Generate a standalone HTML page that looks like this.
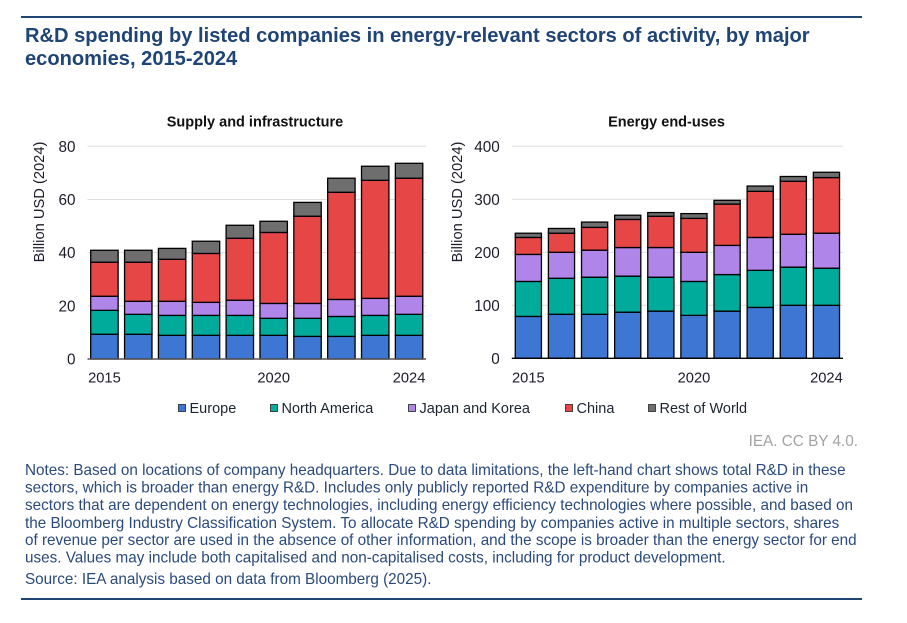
<!DOCTYPE html>
<html lang="en">
<head>
<meta charset="utf-8">
<title>R&amp;D spending by listed companies</title>
<style>
html,body{margin:0;padding:0;background:#fff;width:907px;height:623px;overflow:hidden}
svg{display:block;font-family:"Liberation Sans",Arial,sans-serif}
.title{font-size:20.1px;font-weight:bold;fill:#1f4476}
.note{font-size:15.27px;fill:#2a4a7c}
.tick{fill:#1c1c2a}
.sub{font-size:14.5px;font-weight:bold;fill:#111}
.legend{font-size:14.5px;fill:#1c2430}
</style>
</head>
<body>
<svg id="page" width="907" height="623" viewBox="0 0 907 623" xmlns="http://www.w3.org/2000/svg">
  <rect x="21" y="16" width="841" height="2" fill="#1f4476"/>
  <text class="title" x="25" y="42">R&amp;D spending by listed companies in energy-relevant sectors of activity, by major</text>
  <text class="title" x="25" y="65">economies, 2015-2024</text>

  <g id="left-chart"></g>
  <g id="right-chart"></g>
  <g id="legend"></g>

  <text x="858" y="446" text-anchor="end" style="font-size:15.3px;fill:#a3a3a3">IEA. CC BY 4.0.</text>

  <g>
    <text class="note" x="25" y="475">Notes: Based on locations of company headquarters. Due to data limitations, the left-hand chart shows total R&amp;D in these</text>
    <text class="note" x="25" y="492.4">sectors, which is broader than energy R&amp;D. Includes only publicly reported R&amp;D expenditure by companies active in</text>
    <text class="note" x="25" y="510">sectors that are dependent on energy technologies, including energy efficiency technologies where possible, and based on</text>
    <text class="note" x="25" y="527.8">the Bloomberg Industry Classification System. To allocate R&amp;D spending by companies active in multiple sectors, shares</text>
    <text class="note" x="25" y="545">of revenue per sector are used in the absence of other information, and the scope is broader than the energy sector for end</text>
    <text class="note" x="25" y="562.6">uses. Values may include both capitalised and non-capitalised costs, including for product development.</text>
    <text class="note" x="25" y="584">Source: IEA analysis based on data from Bloomberg (2025).</text>
  </g>
  <rect x="21" y="598" width="841" height="2" fill="#1f4476"/>
</svg>
<script>
var years = [2015, 2016, 2017, 2018, 2019, 2020, 2021, 2022, 2023, 2024];
var xTickLabels = [2015, 2020, 2024];
var seriesNames = ["Europe", "North America", "Japan and Korea", "China", "Rest of World"];
var seriesColors = ["#3e77d3", "#00ab9c", "#b085ea", "#e64646", "#6e6e6e"];

var supplyEurope = [9.3, 9.3, 8.9, 8.9, 8.9, 8.9, 8.5, 8.5, 8.9, 8.9];
var supplyNorthAmerica = [9.0, 7.5, 7.5, 7.5, 7.5, 6.4, 6.8, 7.5, 7.5, 7.9];
var supplyJapanKorea = [5.3, 4.9, 5.3, 4.9, 5.7, 5.6, 5.6, 6.4, 6.4, 6.8];
var supplyChina = [12.8, 14.7, 15.8, 18.4, 23.3, 26.7, 32.8, 40.3, 44.4, 44.4];
var supplyRest = [4.5, 4.5, 4.1, 4.6, 4.9, 4.2, 5.2, 5.3, 5.3, 5.6];
var supplyTicks = [0, 20, 40, 60, 80];

var endEurope = [79, 83, 83, 87, 89, 81, 89, 96, 100, 100];
var endNorthAmerica = [66, 68, 70, 68, 64, 64, 69, 70, 72, 70];
var endJapanKorea = [51, 49, 51, 54, 56, 55, 55, 62, 62, 66];
var endChina = [32, 36, 43, 53, 59, 64, 78, 87, 100, 105];
var endRest = [8, 9, 10, 8, 7, 9, 7, 10, 9, 10];
var endTicks = [0, 100, 200, 300, 400];

var NS = "http://www.w3.org/2000/svg";
function mk(parent, tag, attrs, text) {
  var el = document.createElementNS(NS, tag);
  for (var k in attrs) el.setAttribute(k, attrs[k]);
  if (text !== undefined) el.textContent = text;
  parent.appendChild(el);
  return el;
}

function drawChart(rootId, title, series, ticks, box) {
  var root = document.getElementById(rootId);
  var maxTick = Math.max.apply(null, ticks);
  var y = function (v) { return box.bottom - (v / maxTick) * (box.bottom - box.top); };
  var step = (box.right - box.left) / years.length;
  var x = function (i) { return box.left + step * i; };
  var barW = step * box.barRatio;

  var sub = mk(root, "text", {x: box.titleX, y: 126.5, "text-anchor": "middle", "class": "sub"}, title);
  
  

  var yt = mk(root, "text", {transform: "translate(" + box.yTitleX + " 202) rotate(-90)", "text-anchor": "middle", "class": "tick", style: "font-size:14.7px"}, "Billion USD (2024)");
  
  

  ticks.forEach(function (t) {
    if (t !== 0) {
      var g = mk(root, "line", {x1: box.left, x2: box.right, y1: y(t), y2: y(t), stroke: "#dedede", "stroke-width": 1});
      
      
    }
    var l = mk(root, "text", {x: box.left - 12, y: y(t) + 5.5, "text-anchor": "end", "class": "tick", style: "font-size:15.3px"}, t);
    
    
  });

  years.forEach(function (yr, i) {
    var base = 0;
    series.forEach(function (vals, s) {
      var v = vals[i];
      var r = mk(root, "rect", {
        x: x(i) + (step - barW) / 2,
        y: y(base + v),
        width: barW,
        height: y(base) - y(base + v),
        fill: seriesColors[s],
        stroke: "#000",
        "stroke-width": 1.3
      });
      
      
      base += v;
    });
  });

  var axis = mk(root, "line", {x1: box.left, x2: box.right, y1: y(0), y2: y(0), stroke: box.axisColor, "stroke-width": 1.4});
  
  

  xTickLabels.forEach(function (lab) {
    var i = years.indexOf(lab);
    var t = mk(root, "text", {x: x(i) + step / 2 + (i === 0 ? box.firstShift : 0) + (i === years.length - 1 ? box.lastShift : 0), y: 382.5, "text-anchor": "middle", "class": "tick", style: "font-size:14.7px"}, lab);
    
    
  });
}

drawChart("left-chart", "Supply and infrastructure",
  [supplyEurope, supplyNorthAmerica, supplyJapanKorea, supplyChina, supplyRest],
  supplyTicks,
  {left: 87.5, right: 426, top: 146.3, bottom: 359, barRatio: 0.81, titleX: 255, yTitleX: 44, axisColor: "#555", firstShift: 0, lastShift: 0});

drawChart("right-chart", "Energy end-uses",
  [endEurope, endNorthAmerica, endJapanKorea, endChina, endRest],
  endTicks,
  {left: 511.8, right: 843, top: 146.3, bottom: 358.3, barRatio: 0.79, titleX: 666.5, yTitleX: 462, axisColor: "#000", firstShift: 0, lastShift: 0});

var legendSwatchX = [178, 270, 408, 565, 648];
var legendRoot = document.getElementById("legend");
seriesNames.forEach(function (name, i) {
  var g = mk(legendRoot, "g", {});
  
  
  mk(g, "rect", {x: legendSwatchX[i] + 0.5, y: 404.5, width: 7, height: 7, fill: seriesColors[i], stroke: "#222", "stroke-width": 0.8});
  mk(g, "text", {x: legendSwatchX[i] + 11.5, y: 413, "class": "legend"}, name);
});
</script>
</body>
</html>
